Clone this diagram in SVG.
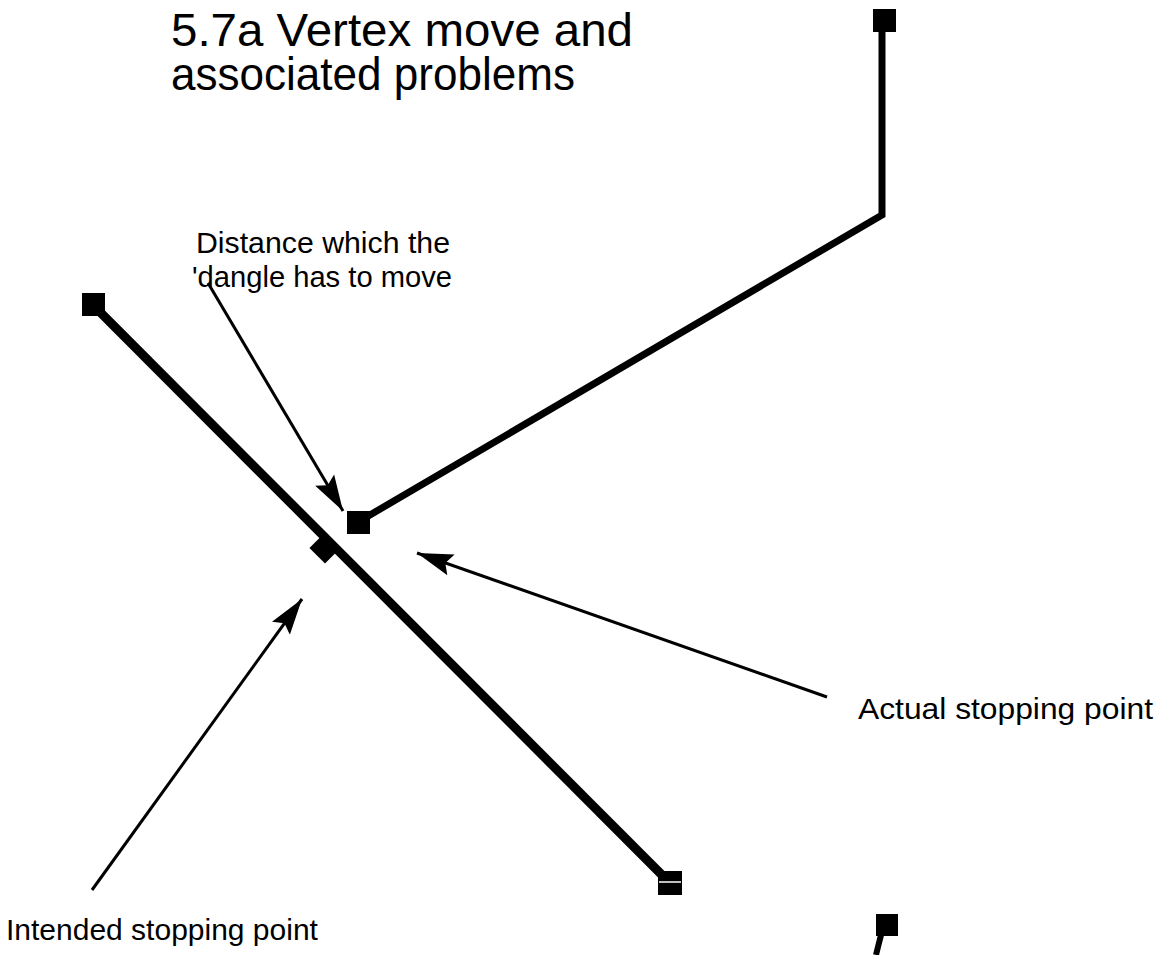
<svg xmlns="http://www.w3.org/2000/svg" width="1165" height="955" viewBox="0 0 1165 955">
<style>
.t{font-family:"Liberation Sans",Arial,sans-serif;fill:#000}
.title{font-size:47px}
.lbl{font-size:30px}
.edge{fill:none;stroke:#000;stroke-linecap:butt;stroke-linejoin:miter}
.arr{fill:none;stroke:#000;stroke-width:3;marker-end:url(#ah)}
.v{fill:#000}
</style>
<defs>
<marker id="ah" markerUnits="userSpaceOnUse" markerWidth="40" markerHeight="24" refX="36" refY="11" orient="auto" viewBox="0 0 40 22">
<path d="M0,0 L36,11 L0,22 L6,11 Z" fill="#000"/>
</marker>
</defs>
<rect width="1165" height="955" fill="#fff"/>
<g id="title">
<text class="t title" x="171" y="46" textLength="462" lengthAdjust="spacingAndGlyphs">5.7a Vertex move and</text>
<text class="t title" x="171" y="90" textLength="404" lengthAdjust="spacingAndGlyphs">associated problems</text>
</g>
<g id="edges">
<polyline class="edge" stroke-width="7" points="882,30 882,215 358,522"/>
<line class="edge" stroke-width="9" x1="93" y1="305" x2="670" y2="883"/>
<line class="edge" stroke-width="6" x1="881" y1="935" x2="876" y2="955"/>
</g>
<g id="v-top-right"><rect class="v" x="873" y="9" width="23" height="23"/></g>
<g id="v-dangle"><rect class="v" x="347" y="511" width="23" height="23"/></g>
<g id="v-top-left"><rect class="v" x="82" y="293" width="23" height="23"/></g>
<g id="v-intended"><rect class="v" x="314" y="537" width="22" height="22" transform="rotate(45 325 548)"/></g>
<g id="v-bottom"><rect class="v" x="658" y="871" width="24" height="24"/><line x1="659" y1="882" x2="681" y2="882" stroke="#fff" stroke-width="1.5"/></g>
<g id="v-bottom-right"><rect class="v" x="876" y="914" width="22" height="22"/></g>
<g id="connectors">
<line class="arr" x1="208" y1="283" x2="343" y2="511"/>
<line class="arr" x1="827" y1="697" x2="417" y2="553"/>
<line class="arr" x1="92" y1="890" x2="302" y2="599"/>
</g>
<g id="labels">
<text class="t lbl" x="196" y="253" textLength="254" lengthAdjust="spacingAndGlyphs">Distance which the</text>
<text class="t lbl" x="192" y="287" textLength="260" lengthAdjust="spacingAndGlyphs">'dangle has to move</text>
<text class="t lbl" x="858" y="719" textLength="295" lengthAdjust="spacingAndGlyphs">Actual stopping point</text>
<text class="t lbl" x="6" y="940">Intended stopping point</text>
</g>
</svg>
